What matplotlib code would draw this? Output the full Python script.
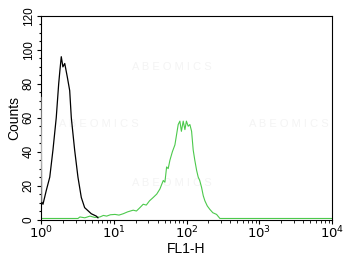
import matplotlib
matplotlib.use("Agg")
import matplotlib.pyplot as plt
from matplotlib.ticker import LogLocator, MultipleLocator, FixedLocator

plt.rcParams['font.family'] = ['Liberation Sans', 'DejaVu Sans']

# Black histogram (control)
black_x = [1.0, 1.03, 1.065, 1.18, 1.32, 1.46, 1.62, 1.75, 1.82, 1.90, 2.00, 2.12,
           2.30, 2.48, 2.61, 2.90, 3.22, 3.58, 3.98, 4.91, 5.75, 6.07]
black_y = [72, 10, 9, 17, 25, 41, 60, 80, 88, 96, 90, 92,
           84, 76, 60, 41, 25, 13, 7, 3.4, 2, 1]

# Green histogram (stained sample)
green_x = [1.0, 3.22, 3.43, 4.0, 4.71, 5.5, 6.46, 7.2, 7.99, 9.0, 10.4, 11.8, 13.5,
           15.5, 18.5, 20.5, 22.9, 25.4, 28.0, 31.0, 34.9, 39.0, 43.1, 47.9, 50.5,
           53.3, 56.0, 59.2, 64.0, 69.3, 73.0, 76.9, 81.1, 85.1, 90.1, 95.1, 99.7,
           105.5, 111.3, 117.5, 123.6, 130.0, 137.7, 144.8, 152.0, 161, 170, 179,
           193, 209, 230, 259, 288, 306, 10000]
green_y = [0.6, 0.6, 1.5, 1.0, 2.0, 1.2, 1.5, 2.4, 2.0, 2.8, 3.0, 2.6, 3.4,
           4.5, 5.5, 5.0, 7, 9, 8.5, 11, 13, 15, 18, 23, 22,
           31, 30, 35, 40, 44, 50, 56, 58, 52, 58, 53, 58,
           55, 56, 52, 41, 35, 29, 25, 23, 19, 14, 11,
           8, 6, 4, 3, 0.6, 0.6, 0.6]

y_ticks = [0, 20, 40, 60, 80, 100, 120]
x_ticks = [1, 10, 100, 1000, 10000]
x_labels = [r'$10^0$', r'$10^1$', r'$10^2$', r'$10^3$', r'$10^4$']

fig = plt.figure(figsize=(3.5, 2.61), dpi=100)
ax = fig.add_axes([41/350, 1 - 219.5/261, (332 - 41)/350, (219.5 - 16)/261])

# faint watermark
for (tx, ty) in [(0.45, 0.75), (0.2, 0.47), (0.45, 0.18), (0.85, 0.47)]:
    ax.text(tx, ty, 'A B E O M I C S', transform=ax.transAxes, color='#f4f4f4',
            fontsize=8, ha='center', va='center', zorder=0)

ax.plot(green_x, green_y, color='#4cc94c', lw=0.8, zorder=2)
ax.plot(black_x[:2], black_y[:2], color='#b0b0b0', lw=0.8, zorder=3)
ax.plot(black_x[1:], black_y[1:], color='black', lw=0.9, zorder=3)

ax.set_xscale('log')
ax.set_xlim(1, 10000)
ax.set_ylim(0, 120)
ax.xaxis.set_major_locator(FixedLocator(x_ticks))
ax.set_xticklabels(x_labels)
ax.xaxis.set_minor_locator(LogLocator(base=10, subs=range(2, 10)))
ax.yaxis.set_major_locator(FixedLocator(y_ticks))
ax.yaxis.set_minor_locator(MultipleLocator(5))

for lbl in ax.get_yticklabels():
    lbl.set_rotation(90)
    lbl.set_va('center')

ax.tick_params(axis='y', which='major', length=3, width=0.8, labelsize=8.5, pad=1.5)
ax.tick_params(axis='y', which='minor', length=1.5, width=0.8)
ax.tick_params(axis='x', which='major', length=3, width=0.8, labelsize=9.5, pad=1)
ax.tick_params(axis='x', which='minor', length=2, width=0.6)

for s in ax.spines.values():
    s.set_linewidth(0.8)

ax.set_xlabel('FL1-H', fontsize=10, labelpad=0)
ax.set_ylabel('Counts', fontsize=10, labelpad=1)

fig.savefig('out.png', dpi=100)
